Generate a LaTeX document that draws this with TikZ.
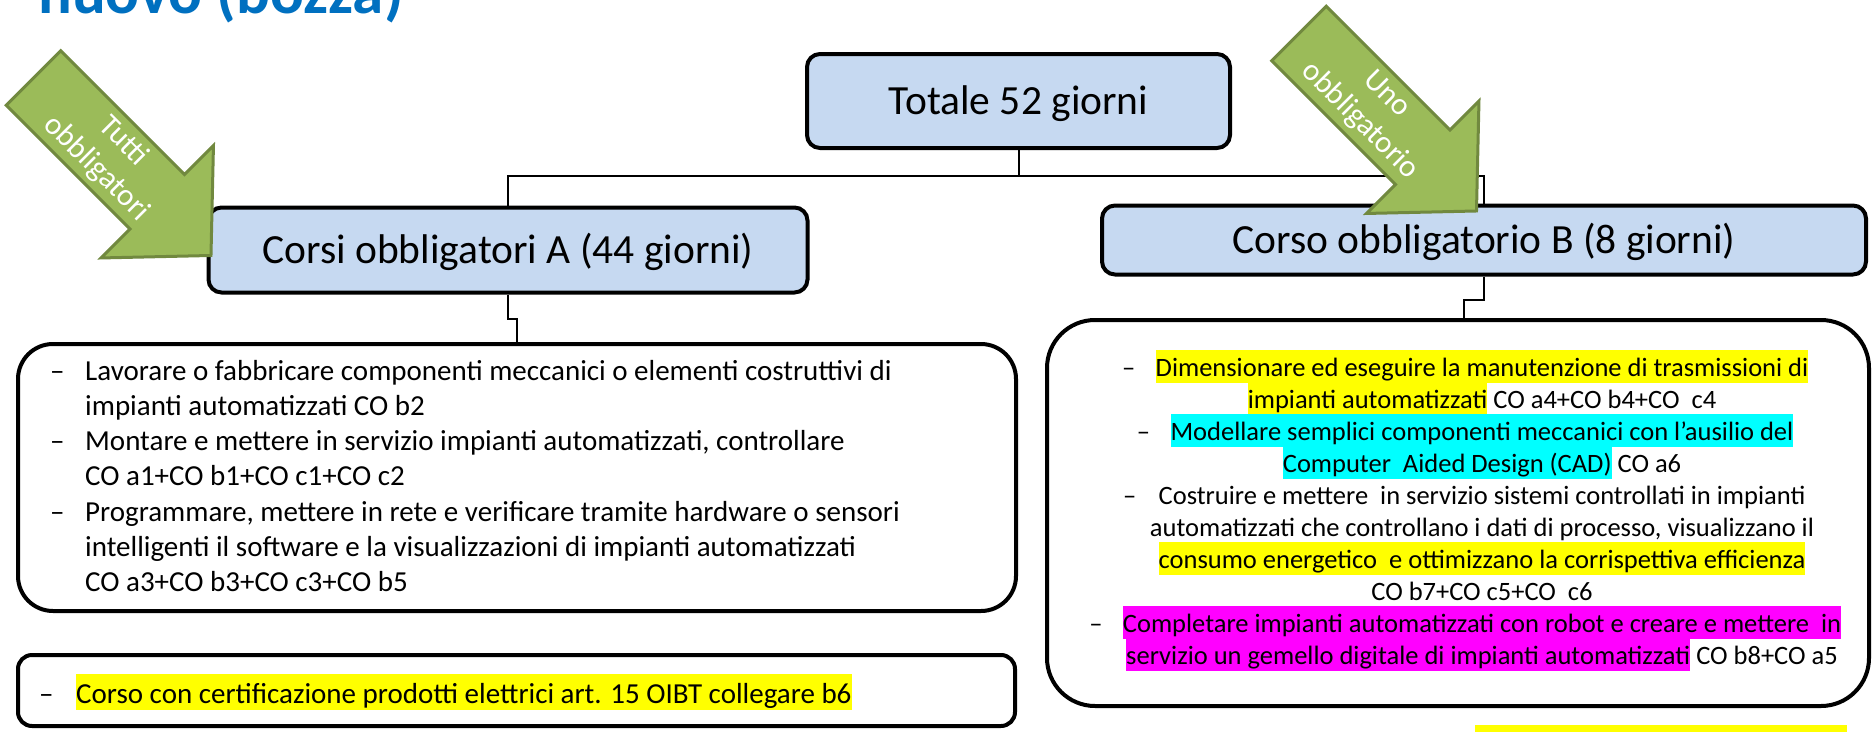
\documentclass[tikz,border=0pt]{standalone}
\usepackage{fontspec}
\setmainfont{Carlito}
\definecolor{boxblue}{HTML}{C6D9F1}
\definecolor{arrowfill}{HTML}{9BBB59}
\definecolor{arrowline}{HTML}{71893F}
\definecolor{titleblue}{HTML}{0070C0}
\definecolor{hly}{HTML}{FFFF00}
\definecolor{hlc}{HTML}{00FFFF}
\definecolor{hlm}{HTML}{FF00FF}
\newcommand\hlR[2]{{\setlength{\fboxsep}{0pt}\colorbox{#1}{\rule[-7pt]{0pt}{33pt}#2}}}
\newcommand\hlL[2]{{\setlength{\fboxsep}{0pt}\colorbox{#1}{\rule[-7pt]{0pt}{36pt}#2}}}
\tikzset{
 topbox/.style={draw=black, line width=4pt, fill=boxblue, rounded corners=13pt, font=\fontsize{41.5}{48}\selectfont, text height=35pt, text depth=8pt, inner sep=0pt},
 listbox/.style={draw=black, line width=4pt, fill=white, inner sep=0pt},
 conn/.style={draw=black, line width=2pt},
 ltext/.style={anchor=base west, inner sep=0pt, font=\fontsize{29}{35}\selectfont},
 rtext/.style={anchor=base, inner sep=0pt, font=\fontsize{26.5}{32}\selectfont},
 rdash/.style={anchor=base east, inner sep=0pt, font=\fontsize{26.5}{32}\selectfont},
 arrowtext/.style={text=white, align=center, inner sep=0pt, font=\fontsize{31}{38}\selectfont, rotate=-45},
 garrow/.pic={\draw[line width=3pt, draw=arrowline, fill=arrowfill, line join=miter] (0,-38.5) -- (175,-38.5) -- (175,-79.5) -- (251,0) -- (175,79.5) -- (175,38.5) -- (0,38.5) -- cycle;}
}
\begin{document}
\begin{tikzpicture}[x=1pt,y=-1pt]
\useasboundingbox (0,0) rectangle (1874,731);
\clip (0,0) rectangle (1874,731);
\fill[white] (0,0) rectangle (1874,731);
\node[anchor=base west, inner sep=0pt, text=titleblue, font=\bfseries\fontsize{63}{70}\selectfont] (title) at (38,13) {nuovo (bozza)};
% boxes
\node[topbox, minimum width=423pt, minimum height=94pt] (tot) at (1018.5,101) {Totale 52 giorni};
\node[topbox, minimum width=599pt, minimum height=85pt] (A) at (508,250) {Corsi obbligatori A (44 giorni)};
\node[topbox, minimum width=764pt, minimum height=69pt] (B) at (1484,240) {Corso obbligatorio B (8 giorni)};
\node[listbox, rounded corners=35pt, minimum width=998pt, minimum height=267pt] (L1) at (517,477.5) {};
\node[listbox, rounded corners=14pt, minimum width=997pt, minimum height=71pt] (L2) at (516.5,690.5) {};
\node[listbox, rounded corners=48pt, minimum width=822pt, minimum height=386pt] (R) at (1458,513) {};
% connectors
\coordinate (bus) at (0,176);
\draw[conn] (tot.south) -- (tot.south |- bus);
\draw[conn] (A.north) |- (B.north |- bus) -- (B.north);
\draw[conn] (A.south) -- ++(0,24) -| (L1.north);
\draw[conn] (B.south) -- ++(0,23) -| ([xshift=6pt]R.north);
% left list
\node[ltext] (d1) at (50,380) {–};
\node[ltext] (l1) at (85,380) {Lavorare o fabbricare componenti meccanici o elementi costruttivi di};
\node[ltext] (l2) at (85,415.3) {impianti automatizzati CO b2};
\node[ltext] (d3) at (50,450.6) {–};
\node[ltext] (l3) at (85,450.6) {Montare e mettere in servizio impianti automatizzati, controllare};
\node[ltext] (l4) at (85,485.9) {CO a1+CO b1+CO c1+CO c2};
\node[ltext] (d5) at (50,521.2) {–};
\node[ltext] (l5) at (85,521.2) {Programmare, mettere in rete e verificare tramite hardware o sensori};
\node[ltext] (l6) at (85,556.5) {intelligenti il software e la visualizzazioni di impianti automatizzati};
\node[ltext] (l7) at (85,591.8) {CO a3+CO b3+CO c3+CO b5};
% second left box
\node[ltext] (dm) at (39,703) {–};
\node[ltext] (m1) at (76,703) {\hlL{hly}{Corso con certificazione prodotti elettrici art. 15 OIBT collegare b6}};
% right list
\node[rtext] (r1) at (1482,376) {\hlR{hly}{Dimensionare ed eseguire la manutenzione di trasmissioni di}};
\node[rdash] (e1) at ([xshift=-20pt]r1.base west) {–};
\node[rtext] (r2) at (1482,408) {\hlR{hly}{impianti automatizzati} CO a4+CO b4+CO~ c4};
\node[rtext] (r3) at (1482,440) {\hlR{hlc}{Modellare semplici componenti meccanici con l’ausilio del}};
\node[rdash] (e3) at ([xshift=-20pt]r3.base west) {–};
\node[rtext] (r4) at (1482,472) {\hlR{hlc}{Computer~ Aided Design (CAD)} CO a6};
\node[rtext] (r5) at (1482,504) {Costruire e mettere~ in servizio sistemi controllati in impianti};
\node[rdash] (e5) at ([xshift=-22pt]r5.base west) {–};
\node[rtext] (r6) at (1482,536) {automatizzati che controllano i dati di processo, visualizzano il};
\node[rtext] (r7) at (1482,568) {\hlR{hly}{consumo energetico~ e ottimizzano la corrispettiva efficienza}};
\node[rtext] (r8) at (1482,600) {CO b7+CO c5+CO~ c6};
\node[rtext] (r9) at (1482,632) {\hlR{hlm}{Completare impianti automatizzati con robot e creare e mettere~ in}};
\node[rdash] (e9) at ([xshift=-20pt]r9.base west) {–};
\node[rtext] (r10) at (1482,664) {\hlR{hlm}{servizio un gemello digitale di impianti automatizzati} CO b8+CO a5};
\fill[hly] (1475,725) rectangle (1847,740);
% green arrows
\pic[rotate=-45] at (33.5,78) {garrow};
\node[arrowtext] (t1) at (110,155) {Tutti\\obbligatori};
\pic[rotate=-45] at (1299,33.5) {garrow};
\node[arrowtext] (t2) at (1373,108) {Uno\\obbligatorio};
\end{tikzpicture}
\end{document}
